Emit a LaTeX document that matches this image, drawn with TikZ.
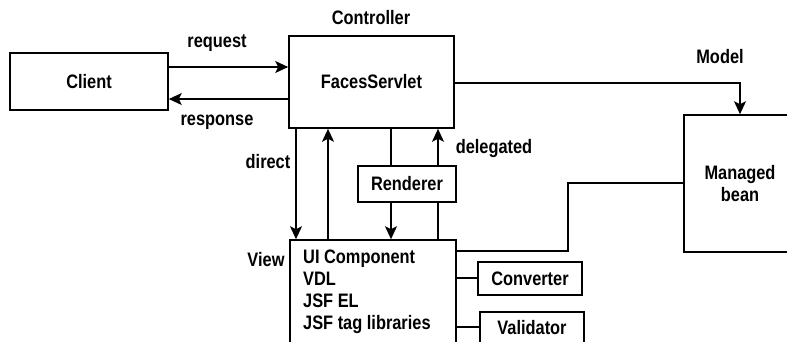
\documentclass[tikz,border=0pt]{standalone}
\usepackage{fontspec}
\setmainfont{Liberation Sans}[FakeStretch=0.84,UprightFont=* Bold]
\usetikzlibrary{arrows.meta}
\begin{document}
\begin{tikzpicture}[x=1pt,y=-1pt,
  box/.style={draw,line width=1.6pt,inner sep=0pt,minimum width=#1},
  lbl/.style={inner sep=0pt},
  ln/.style={line width=1.6pt},
  arr/.style={line width=1.6pt,-{Stealth[length=13pt,width=12pt,inset=3pt]}},
  every node/.style={font=\fontsize{19.5}{22}\selectfont}]
\clip (0,0) rectangle (787,341);
\fill[white] (0,0) rectangle (787,341);
% boxes
\node[box=158pt,minimum height=57pt] (client) at (89,81.5) {Client};
\node[box=165pt,minimum height=92pt] (fs) at (371.5,82) {FacesServlet};
\node[box=112pt,minimum height=137pt,align=center] (mb) at (740,183.5) {Managed\\bean};
\node[box=98pt,minimum height=36pt] (ren) at (407,184) {Renderer};
\node[box=166pt,minimum height=140pt] (view) at (373,310) {};
\node[box=104pt,minimum height=33pt] (conv) at (530,278.5) {Converter};
\node[box=104pt,minimum height=32pt] (val) at (532,328) {Validator};
% view text
\node[lbl,anchor=north west,align=left] (vtxt) at (303,250) {UI Component\\VDL\\JSF EL\\JSF tag libraries};
% labels
\node[lbl] (lctrl) at (371,18) {Controller};
\node[lbl] (lreq) at (217,43) {request};
\node[lbl] (lresp) at (217,122) {response};
\node[lbl] (ldir) at (268,162) {direct};
\node[lbl] (ldel) at (494,148) {delegated};
\node[lbl] (lmodel) at (720,57) {Model};
\node[lbl] (lview) at (266,260) {View};
% helper coordinates
\coordinate (yreq) at (0,67);
\coordinate (yresp) at (0,99);
\coordinate (xa) at (296,0);
\coordinate (xb) at (328,0);
\coordinate (xc) at (391,0);
\coordinate (xd) at (438,0);
\coordinate (ymodel) at (0,83);
\coordinate (xmodel) at (740,0);
\coordinate (ymb) at (0,183);
\coordinate (xmb) at (568,0);
\coordinate (yvmb) at (0,251);
\coordinate (yconv) at (0,278);
\coordinate (yval) at (0,327);
% connectors
\draw[arr] (client.east |- yreq) -- (fs.west |- yreq);
\draw[arr] (fs.west |- yresp) -- (client.east |- yresp);
\draw[arr] (fs.south -| xa) -- (view.north -| xa);
\draw[arr] (view.north -| xb) -- (fs.south -| xb);
\draw[ln] (fs.south -| xc) -- (ren.north -| xc);
\draw[arr] (ren.south -| xc) -- (view.north -| xc);
\draw[ln] (view.north -| xd) -- (ren.south -| xd);
\draw[arr] (ren.north -| xd) -- (fs.south -| xd);
\draw[arr] (fs.east |- ymodel) -| (mb.north -| xmodel);
\draw[ln] (mb.west |- ymb) -| (xmb |- yvmb) -- (view.east |- yvmb);
\draw[ln] (view.east |- yconv) -- (conv.west |- yconv);
\draw[ln] (view.east |- yval) -- (val.west |- yval);
\end{tikzpicture}
\end{document}
